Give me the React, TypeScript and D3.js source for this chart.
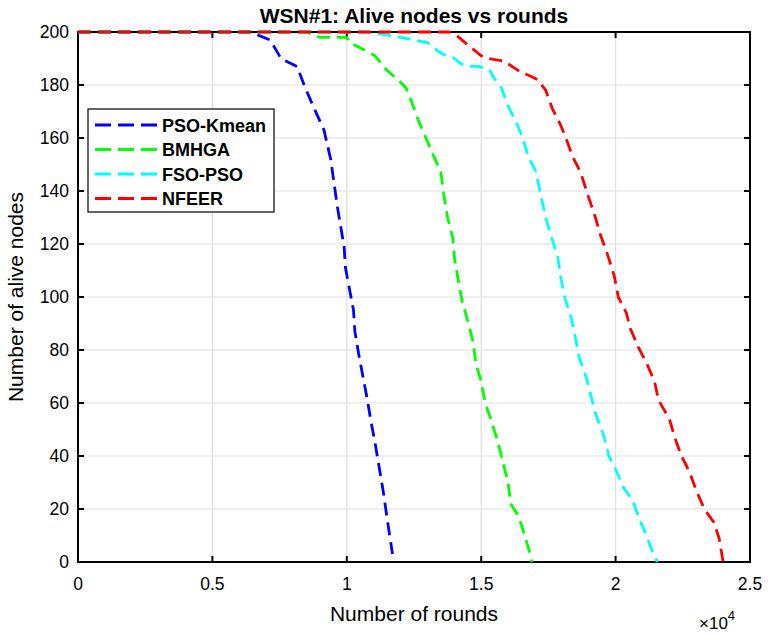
import React from "react";
import * as d3 from "d3";

const psoRounds = [0, 6400, 7150, 7550, 8150, 8450, 8750, 9150, 9400, 9650, 9900, 9950, 10100, 10250, 10300, 10450, 10600, 10750, 10900, 11050, 11200, 11350, 11550, 11700];
const psoAlive = [200, 200, 197, 190, 187, 179, 172, 163, 152, 134, 119, 111, 103, 95, 87, 78, 70, 62, 53, 45, 36, 27, 13, 3];

const bmRounds = [0, 8500, 9000, 10000, 10100, 10700, 11050, 11450, 12000, 12200, 12400, 12650, 12900, 13200, 13500, 13600, 13750, 13950, 14000, 14150, 14300, 14500, 14700, 14800, 15000, 15150, 15350, 15600, 15800, 16000, 16100, 16400, 16650, 16850, 16880];
const bmAlive = [200, 200, 198, 198, 196, 193, 191, 186, 181, 179, 174, 167, 161, 154, 147, 139, 130, 122, 115, 106, 98, 91, 83, 75, 68, 60, 54, 46, 38, 30, 22, 17, 9, 2, 0];

const fsoRounds = [0, 10800, 11400, 12000, 13000, 13250, 13500, 14000, 14250, 14550, 14900, 15300, 15450, 15750, 16000, 16300, 16550, 16750, 17050, 17200, 17400, 17600, 17850, 17950, 18100, 18350, 18500, 18650, 18900, 19100, 19250, 19550, 19750, 20000, 20300, 20650, 20850, 21150, 21400, 21550];
const fsoAlive = [200, 200, 199, 198, 196, 194, 192, 190, 188, 187, 187, 186, 183, 179, 172, 166, 160, 153, 147, 139, 130, 123, 115, 108, 100, 92, 85, 77, 70, 62, 56, 48, 40, 35, 28, 23, 17, 10, 3, 0];

const nfRounds = [0, 13800, 14050, 14400, 15000, 15250, 15850, 16300, 16450, 16900, 17100, 17400, 17650, 17950, 18150, 18400, 18700, 18950, 19250, 19450, 19700, 19950, 20100, 20400, 20550, 20850, 21200, 21450, 21600, 22000, 22200, 22450, 22750, 23000, 23300, 23650, 23850, 23950, 24000];
const nfAlive = [200, 200, 199, 196, 191, 190, 189, 186, 185, 183, 182, 178, 171, 165, 160, 153, 147, 139, 130, 123, 116, 108, 100, 94, 88, 81, 74, 68, 61, 54, 47, 40, 34, 27, 20, 15, 9, 3, 0];

const seriesNames = ["PSO-Kmean", "BMHGA", "FSO-PSO", "NFEER"];
const seriesColors = ["#0000ff", "#00ff00", "#00ffff", "#ff0000"];
const seriesRounds = [psoRounds, bmRounds, fsoRounds, nfRounds];
const seriesAlive = [psoAlive, bmAlive, fsoAlive, nfAlive];

const xTicks = [0, 5000, 10000, 15000, 20000, 25000];
const yTicks = [0, 20, 40, 60, 80, 100, 120, 140, 160, 180, 200];

const W = 768, H = 635;
const L = 78, R = 750, T = 32, B = 562;
const FONT = "'Liberation Sans', Arial, Helvetica, sans-serif";

export default function App() {
  const x = d3.scaleLinear().domain([0, 25000]).range([L, R]);
  const y = d3.scaleLinear().domain([0, 200]).range([B, T]);
  const line = d3.line<[number, number]>().x(d => x(d[0])).y(d => y(d[1]));
  const tickLen = 6;
  const dash = "13,7";

  return (
    <svg width={W} height={H} style={{ position: "absolute", left: 0, top: 0, background: "#fff" }} fontFamily={FONT}>
      <rect x={0} y={0} width={W} height={H} fill="#fff" />
      {/* grid */}
      {xTicks.map(t => (
        <line key={"gx" + t} x1={x(t)} x2={x(t)} y1={T} y2={B} stroke="#dfdfdf" strokeWidth={1.2} />
      ))}
      {yTicks.map(t => (
        <line key={"gy" + t} x1={L} x2={R} y1={y(t)} y2={y(t)} stroke="#dfdfdf" strokeWidth={1.2} />
      ))}
      {/* box */}
      <rect x={L} y={T} width={R - L} height={B - T} fill="none" stroke="#000" strokeWidth={2} />
      {/* ticks */}
      {xTicks.map(t => (
        <g key={"tx" + t}>
          <line x1={x(t)} x2={x(t)} y1={B} y2={B - tickLen} stroke="#000" strokeWidth={2} />
          <line x1={x(t)} x2={x(t)} y1={T} y2={T + tickLen} stroke="#000" strokeWidth={2} />
          <text x={x(t)} y={B + 28} textAnchor="middle" fontSize={17.5} fill="#000">{d3.format("")(t / 10000)}</text>
        </g>
      ))}
      {yTicks.map(t => (
        <g key={"ty" + t}>
          <line x1={L} x2={L + tickLen} y1={y(t)} y2={y(t)} stroke="#000" strokeWidth={2} />
          <line x1={R} x2={R - tickLen} y1={y(t)} y2={y(t)} stroke="#000" strokeWidth={2} />
          <text x={L - 9} y={y(t) + 6} textAnchor="end" fontSize={17.5} fill="#000">{t}</text>
        </g>
      ))}
      {/* curves */}
      {seriesNames.map((n, i) => {
        const pts: [number, number][] = seriesRounds[i].map((r, j) => [r, seriesAlive[i][j]]);
        return (
          <path key={n} d={line(pts) || ""} fill="none" stroke={seriesColors[i]} strokeWidth={2.8} strokeDasharray={dash} />
        );
      })}
      {/* title & labels */}
      <text x={(L + R) / 2} y={23} textAnchor="middle" fontSize={21} fontWeight="bold" fill="#000">WSN#1: Alive nodes vs rounds</text>
      <text x={(L + R) / 2} y={621} textAnchor="middle" fontSize={21} fill="#000">Number of rounds</text>
      <text transform={`translate(23, ${(T + B) / 2}) rotate(-90)`} textAnchor="middle" fontSize={21} fill="#000">Number of alive nodes</text>
      <text x={699} y={629} fontSize={17} fill="#000">
        ×10<tspan dy={-9} fontSize={13}>4</tspan>
      </text>
      {/* legend */}
      <rect x={88} y={109} width={186} height={103} fill="#fff" stroke="#000" strokeWidth={1.2} />
      {seriesNames.map((n, i) => {
        const yy = 125 + i * 24.5;
        return (
          <g key={"lg" + n}>
            <line x1={95} x2={157} y1={yy} y2={yy} stroke={seriesColors[i]} strokeWidth={2.8} strokeDasharray="16,7" />
            <text x={162} y={yy + 6.5} fontSize={18} fontWeight="bold" fill="#000">{n}</text>
          </g>
        );
      })}
    </svg>
  );
}
